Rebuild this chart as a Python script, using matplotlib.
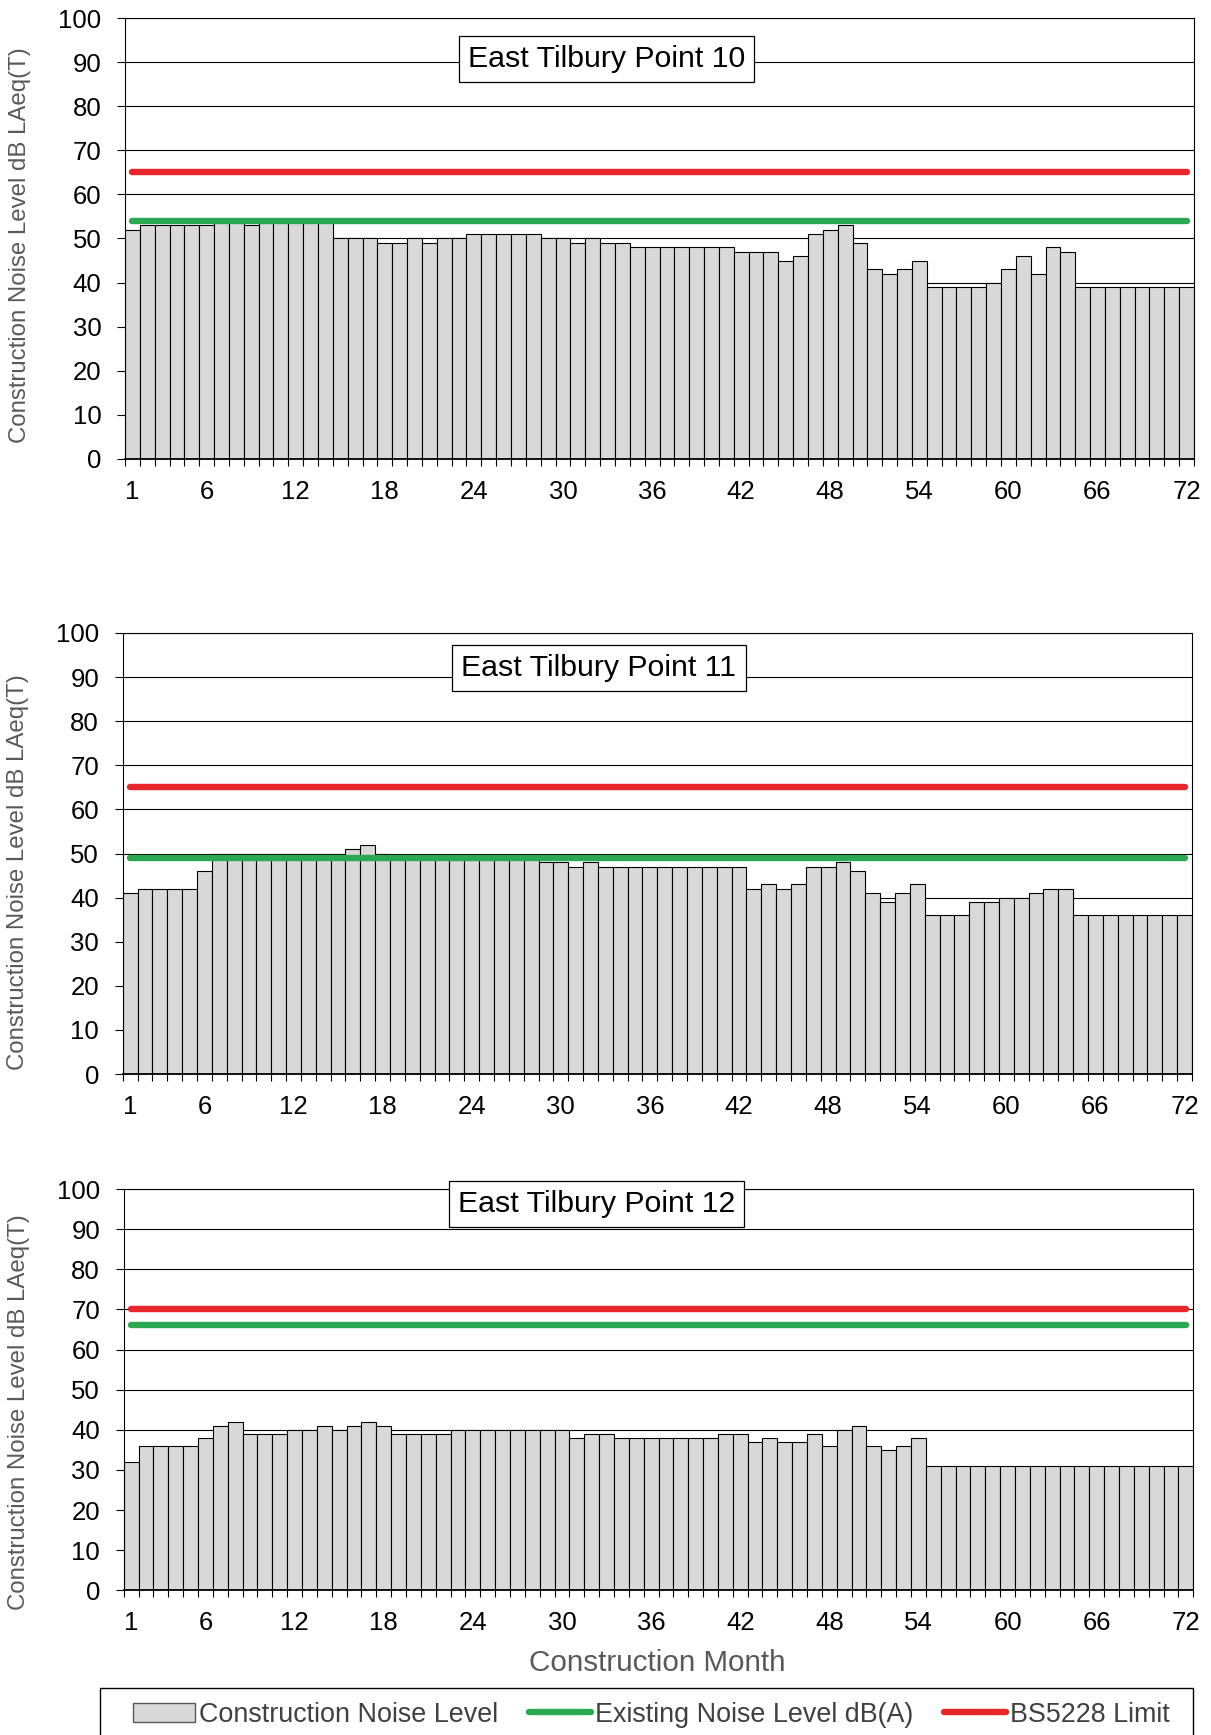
import matplotlib
matplotlib.use('Agg')
import matplotlib.pyplot as plt
from matplotlib.patches import Patch, Rectangle
from matplotlib.lines import Line2D
import numpy as np

plt.rcParams['font.family'] = ['Liberation Sans', 'DejaVu Sans']

# ---------------- data ----------------
months = list(range(1, 73))
tick_months = [1, 6, 12, 18, 24, 30, 36, 42, 48, 54, 60, 66, 72]
y_ticks = [0, 10, 20, 30, 40, 50, 60, 70, 80, 90, 100]

titles = ["East Tilbury Point 10", "East Tilbury Point 11", "East Tilbury Point 12"]

point10 = [52, 53, 53, 53, 53, 53, 54, 54, 53, 54, 54, 54, 54, 54, 50, 50, 50, 49,
           49, 50, 49, 50, 50, 51, 51, 51, 51, 51, 50, 50, 49, 50, 49, 49, 48, 48,
           48, 48, 48, 48, 48, 47, 47, 47, 45, 46, 51, 52, 53, 49, 43, 42, 43, 45,
           39, 39, 39, 39, 40, 43, 46, 42, 48, 47, 39, 39, 39, 39, 39, 39, 39, 39]
point11 = [41, 42, 42, 42, 42, 46, 50, 50, 50, 50, 50, 50, 50, 50, 50, 51, 52, 50,
           49, 49, 49, 49, 49, 49, 49, 49, 49, 49, 48, 48, 47, 48, 47, 47, 47, 47,
           47, 47, 47, 47, 47, 47, 42, 43, 42, 43, 47, 47, 48, 46, 41, 39, 41, 43,
           36, 36, 36, 39, 39, 40, 40, 41, 42, 42, 36, 36, 36, 36, 36, 36, 36, 36]
point12 = [32, 36, 36, 36, 36, 38, 41, 42, 39, 39, 39, 40, 40, 41, 40, 41, 42, 41,
           39, 39, 39, 39, 40, 40, 40, 40, 40, 40, 40, 40, 38, 39, 39, 38, 38, 38,
           38, 38, 38, 38, 39, 39, 37, 38, 37, 37, 39, 36, 40, 41, 36, 35, 36, 38,
           31, 31, 31, 31, 31, 31, 31, 31, 31, 31, 31, 31, 31, 31, 31, 31, 31, 31]

existing_levels = [54, 49, 66]   # Existing Noise Level dB(A)
bs5228_limits = [65, 65, 70]     # BS5228 Limit

series = [point10, point11, point12]

# ---------------- layout (pixels) ----------------
W, H = 1211, 1735
rects = [(125.0, 1194.0, 18.0, 459.0),
         (122.7, 1192.0, 633.0, 1074.0),
         (123.7, 1193.3, 1189.0, 1590.3)]
title_pos = [(0.4504, 0.907), (0.4454, 0.921), (0.442, 0.963)]
ylabel_y = [0.485, 0.457, 0.444]

BAR_C = '#d9d9d9'
GREEN = '#2aa952'
RED = '#e62628'
GRAY_TXT = '#595959'

fig = plt.figure(figsize=(W / 100, H / 100), dpi=100)

axes = []
for i, (l, r, t, b) in enumerate(rects):
    ax = fig.add_axes([l / W, 1 - b / H, (r - l) / W, (b - t) / H])
    axes.append(ax)
    ax.bar(months, series[i], width=1.0, color=BAR_C, edgecolor='black',
           linewidth=0.8, zorder=2)
    ax.plot([months[0], months[-1]], [existing_levels[i]] * 2, color=GREEN,
            lw=4.6, solid_capstyle='round', zorder=3)
    ax.plot([months[0], months[-1]], [bs5228_limits[i]] * 2, color=RED,
            lw=4.6, solid_capstyle='round', zorder=3)

    ax.set_xlim(0.5, 72.5)
    ax.set_ylim(0, 100)
    ax.set_axisbelow(True)
    ax.yaxis.grid(True, color='black', lw=0.8, zorder=0)

    ax.set_yticks(y_ticks)
    ax.set_yticklabels([str(v) for v in y_ticks])
    ax.tick_params(axis='y', which='major', direction='out', length=6,
                   width=0.8, pad=11, labelsize=18.5, colors='black')

    ax.set_xticks(np.arange(0.5, 73, 1.0))
    ax.set_xticklabels([])
    ax.set_xticks(tick_months, minor=True)
    ax.set_xticklabels([str(m) for m in tick_months], minor=True)
    ax.tick_params(axis='x', which='major', direction='out', length=5,
                   width=0.8)
    ax.tick_params(axis='x', which='minor', length=0, pad=15, labelsize=18.5)

    for s in ax.spines.values():
        s.set_color('black')
        s.set_linewidth(0.8)
    ax.spines['bottom'].set_linewidth(1.3)

    ax.text(title_pos[i][0], title_pos[i][1], titles[i], transform=ax.transAxes,
            ha='center', va='center', fontsize=21.8, color='black', zorder=5,
            bbox=dict(boxstyle='square,pad=0.3', fc='white', ec='black', lw=0.9))

    ax.set_ylabel('Construction Noise Level dB LAeq(T)', fontsize=17.3,
                  color=GRAY_TXT, va='center')
    ax.yaxis.set_label_coords(-0.098, ylabel_y[i])

axes[2].set_xlabel('Construction Month', fontsize=21.3, color=GRAY_TXT, va='center')
axes[2].xaxis.set_label_coords(0.499, -0.181)

# ---------------- legend ----------------
handles = [Patch(facecolor=BAR_C, edgecolor='#595959', linewidth=1.0),
           Line2D([0], [0], color=GREEN, lw=4.6, solid_capstyle='round'),
           Line2D([0], [0], color=RED, lw=4.6, solid_capstyle='round')]
labels = ['Construction Noise Level', 'Existing Noise Level dB(A)', 'BS5228 Limit']
fig.legend(handles, labels, loc='center', bbox_to_anchor=(0.538, 1 - 1714.5 / H),
           ncol=3, frameon=False, fontsize=19.4, handlelength=2.3,
           handletextpad=0.15, columnspacing=1.15, labelcolor='#404040')
fig.add_artist(Rectangle((99.6 / W, -0.02), (1193 - 99.6) / W, 1 - 1688 / H + 0.02,
                         transform=fig.transFigure, fill=False, ec='black', lw=1.0))

fig.savefig('out.png', dpi=100)
